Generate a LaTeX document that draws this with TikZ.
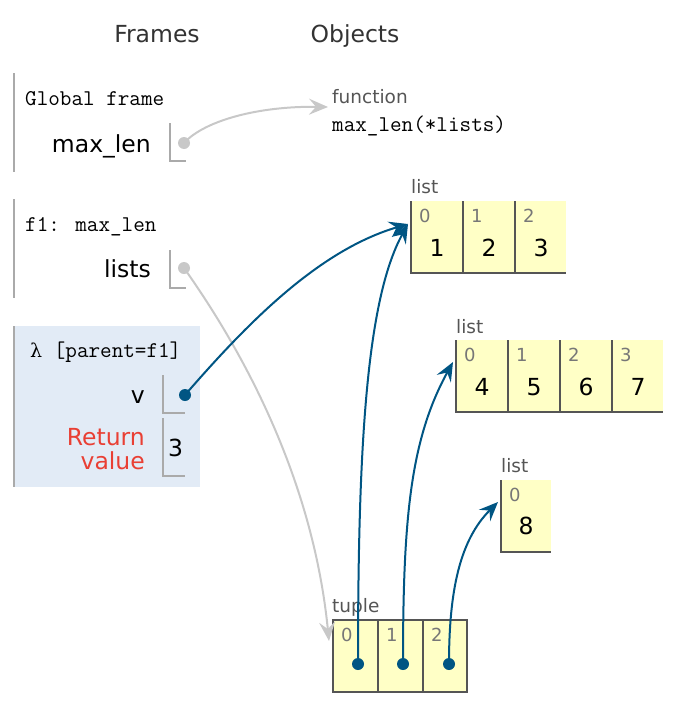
\documentclass[tikz,border=0pt]{standalone}
\usepackage{fontspec}
\setmainfont{DejaVu Sans}
\newfontfamily\lamfont{DejaVu Serif}
\usetikzlibrary{arrows.meta}
\definecolor{ptr}{HTML}{005583}
\definecolor{lgray}{HTML}{C8C8C8}
\definecolor{bar}{HTML}{AAAAAA}
\definecolor{cellbg}{HTML}{FFFFC6}
\definecolor{cellbd}{HTML}{555555}
\definecolor{hl}{HTML}{E2EBF6}
\definecolor{retc}{HTML}{E93F34}
\definecolor{idxc}{HTML}{777777}
\definecolor{lblc}{HTML}{555555}
\tikzset{
  hdr/.style={font=\fontsize{23.5}{26}\selectfont, text=black!80, anchor=base, inner sep=0},
  mono/.style={font=\ttfamily\fontsize{22.5}{26}\selectfont, anchor=base west, inner sep=0},
  var/.style={font=\fontsize{23.5}{26}\selectfont, anchor=base east, inner sep=0},
  typ/.style={font=\fontsize{18.5}{21}\selectfont, text=lblc, anchor=base west, inner sep=0},
  idx/.style={font=\fontsize{18}{20}\selectfont, text=idxc, anchor=base west, inner sep=0},
  val/.style={font=\fontsize{23.5}{26}\selectfont, anchor=base, inner sep=0},
  framebar/.style={draw=bar, line width=2pt},
  slot/.style={draw=bar, line width=1.8pt},
  cellln/.style={draw=cellbd, line width=2pt},
  gdot/.style={circle, fill=lgray, inner sep=0, minimum size=12pt},
  bdot/.style={circle, fill=ptr, inner sep=0, minimum size=12pt},
  ahead/.style={-{Stealth[length=19pt,width=16pt,inset=7pt]}},
  garrow/.style={draw=lgray, line width=2pt, ahead},
  barrow/.style={draw=ptr, line width=2pt, ahead}
}
\begin{document}
\begin{tikzpicture}[x=1pt,y=-1pt]
\useasboundingbox (0,0) rectangle (684,704);
% headers
\node[hdr] (hframes) at (157,42) {Frames};
\node[hdr] (hobjects) at (355,42) {Objects};
% global frame
\draw[framebar] (14,73) -- (14,172);
\node[mono] (gf) at (25,105) {Global frame};
\node[var] (vmax) at (151,152) {max\_len};
\draw[slot] (170,123) -- (170,161) -- (186,161);
\node[gdot] (dmax) at (184,143) {};
% f1 frame
\draw[framebar] (14,199) -- (14,298);
\node[mono] (f1) at (25,231) {f1: max\_len};
\node[var] (vlists) at (151,277) {lists};
\draw[slot] (170,250) -- (170,288) -- (186,288);
\node[gdot] (dlists) at (184,268) {};
% lambda frame
\fill[hl] (14,326) rectangle (200,487);
\draw[framebar] (14,326) -- (14,487);
\node[mono] (lam) at (30,357) {{\lamfont\fontsize{19}{22}\selectfont λ} [parent=f1]};
\node[var] (vv) at (145,403) {v};
\draw[slot] (163,375) -- (163,413) -- (185,413);
\node[bdot] (dv) at (185,395) {};
\node[var, text=retc] (vret1) at (145,445) {Return};
\node[var, text=retc] (vret2) at (145,469) {value};
\draw[slot] (163,418) -- (163,476) -- (185,476);
\node[val, anchor=base west] (v3) at (168,456) {3};
% function object
\node[typ] (ftyp) at (332,103) {function};
\node[mono] (fname) at (332,131) {max\_len(*lists)};
\coordinate (fin) at (328,107);
% list 1
\node[typ] (l1t) at (411,193) {list};
\fill[cellbg] (411,201) rectangle (566,273);
\draw[cellln] (411,201) -- (411,273) -- (566,273);
\draw[cellln] (463,201) -- (463,273);
\draw[cellln] (515,201) -- (515,273);
\node[idx] (l1i0) at (419,222) {0};
\node[idx] (l1i1) at (471,222) {1};
\node[idx] (l1i2) at (523,222) {2};
\node[val] (l1v0) at (437,256) {1};
\node[val] (l1v1) at (489,256) {2};
\node[val] (l1v2) at (541,256) {3};
\coordinate (l1in) at (408,224);
% list 2
\node[typ] (l2t) at (456,333) {list};
\fill[cellbg] (456,340) rectangle (663,412);
\draw[cellln] (456,340) -- (456,412) -- (663,412);
\draw[cellln] (508,340) -- (508,412);
\draw[cellln] (560,340) -- (560,412);
\draw[cellln] (612,340) -- (612,412);
\node[idx] (l2i0) at (464,361) {0};
\node[idx] (l2i1) at (516,361) {1};
\node[idx] (l2i2) at (568,361) {2};
\node[idx] (l2i3) at (620,361) {3};
\node[val] (l2v0) at (482,395) {4};
\node[val] (l2v1) at (534,395) {5};
\node[val] (l2v2) at (586,395) {6};
\node[val] (l2v3) at (638,395) {7};
\coordinate (l2in) at (453,362);
% list 3
\node[typ] (l3t) at (501,472) {list};
\fill[cellbg] (501,480) rectangle (551,552);
\draw[cellln] (501,480) -- (501,552) -- (551,552);
\node[idx] (l3i0) at (509,501) {0};
\node[val] (l3v0) at (526,534) {8};
\coordinate (l3in) at (498,502);
% tuple
\node[typ] (tt) at (332,612) {tuple};
\fill[cellbg] (333,620) rectangle (467,692);
\draw[cellln] (333,620) rectangle (467,692);
\draw[cellln] (378,620) -- (378,692);
\draw[cellln] (423,620) -- (423,692);
\node[idx] (ti0) at (341,641) {0};
\node[idx] (ti1) at (386,641) {1};
\node[idx] (ti2) at (431,641) {2};
\node[bdot] (t0) at (358,664) {};
\node[bdot] (t1) at (403,664) {};
\node[bdot] (t2) at (449,664) {};
\coordinate (tin) at (329,641);
% arrows
\draw[garrow] (dmax.center) .. controls (205,120) and (260,106) .. (fin);
\draw[garrow] (dlists.center) .. controls (235,340) and (312,470) .. (tin);
\draw[barrow] (dv.center) .. controls (250,320) and (320,250) .. (l1in);
\draw[barrow] (t0.center) .. controls (358,450) and (366,300) .. (l1in);
\draw[barrow] (t1.center) .. controls (403,520) and (410,440) .. (l2in);
\draw[barrow] (t2.center) .. controls (449,590) and (460,540) .. (l3in);
\end{tikzpicture}
\end{document}
